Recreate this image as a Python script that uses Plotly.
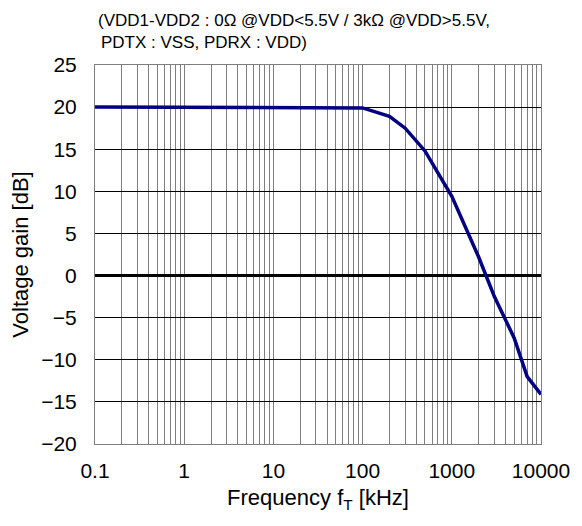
import plotly.graph_objects as go

# ---- data ----
freq_khz = [0.1, 1, 10, 100, 200, 300, 500, 1000, 2000, 3000, 5000, 7000, 10000]
gain_db = [20.0, 20.0, 20.0, 19.9, 18.9, 17.5, 14.8, 9.4, 2.2, -2.5, -7.4, -12.0, -14.1]

x_ticks = [0.1, 1, 10, 100, 1000, 10000]
x_tick_text = ["0.1", "1", "10", "100", "1000", "10000"]
y_ticks = [-20, -15, -10, -5, 0, 5, 10, 15, 20, 25]

note_line1 = "(VDD1-VDD2 : 0Ω @VDD<5.5V / 3kΩ @VDD>5.5V,"
note_line2 = "PDTX : VSS, PDRX : VDD)"

FONT = "Liberation Sans, Arial, sans-serif"

fig = go.Figure()
fig.add_trace(go.Scatter(
    x=freq_khz, y=gain_db, mode="lines",
    line=dict(color="#000080", width=3.5),
    showlegend=False,
))

# ── Axes ─────────────────────────────────────────────────
fig.update_xaxes(
    type="log", range=[-1, 4],
    tickvals=x_ticks, ticktext=x_tick_text,
    showgrid=True, gridcolor="#7f7f7f", gridwidth=1,
    minor=dict(dtick="D1", showgrid=True, gridcolor="#7f7f7f", gridwidth=1, ticks=""),
    showline=True, linecolor="#7f7f7f", linewidth=1, mirror=True,
    ticks="", ticklabelstandoff=8,
    tickfont=dict(size=21, color="black"),
    title=dict(text="Frequency f<sub>T</sub> [kHz]", font=dict(size=22, color="black"), standoff=8),
    zeroline=False,
)
fig.update_yaxes(
    range=[-20, 25], tickvals=y_ticks,
    showgrid=True, gridcolor="#000000", gridwidth=1,
    zeroline=True, zerolinecolor="#000000", zerolinewidth=3,
    showline=True, linecolor="#7f7f7f", linewidth=1, mirror=True,
    ticks="", ticklabelstandoff=13,
    tickfont=dict(size=21, color="black"),
    title=dict(text="Voltage gain [dB]", font=dict(size=22, color="black"), standoff=6),
)

# ── Condition note above the plot ────────────────────────
fig.add_annotation(text=note_line1, xref="paper", yref="paper", x=0.002, y=1.118,
                   xanchor="left", yanchor="middle", showarrow=False,
                   font=dict(size=17, color="black", family=FONT))
fig.add_annotation(text=note_line2, xref="paper", yref="paper", x=0.010, y=1.060,
                   xanchor="left", yanchor="middle", showarrow=False,
                   font=dict(size=17, color="black", family=FONT))

# sized so the page (with the 8px body margin) fits the window without scrolling
fig.update_layout(
    width=574, height=510,
    margin=dict(l=85, r=33, t=57, b=71),
    paper_bgcolor="white", plot_bgcolor="white",
    font=dict(family=FONT, color="black"),
)

fig.write_html("out.html")
